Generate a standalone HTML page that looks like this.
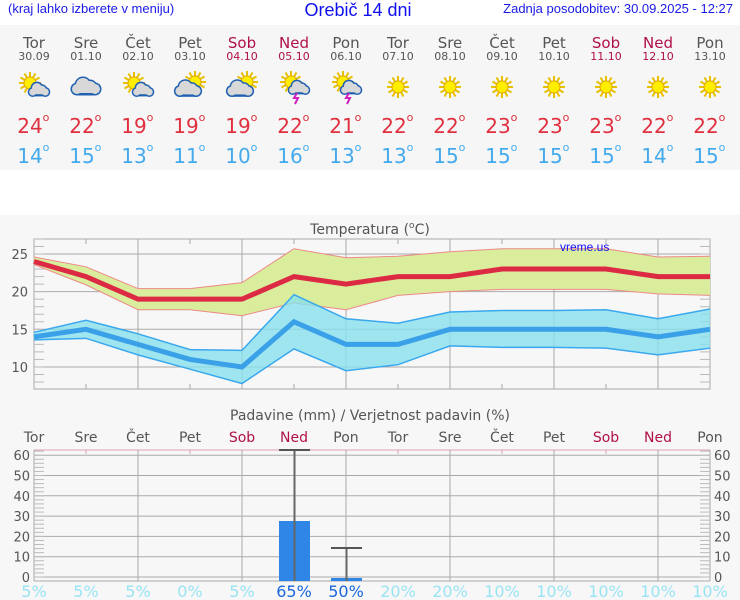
<!DOCTYPE html>
<html><head><meta charset="utf-8">
<style>
body{margin:0;width:740px;height:600px;overflow:hidden;background:#fff;font-family:"DejaVu Sans","Liberation Sans",sans-serif;}
</style></head>
<body>
<svg id="s" width="740" height="600" xmlns="http://www.w3.org/2000/svg" style="position:absolute;left:0;top:0"></svg>
<script>
var s='';
function t(x,y,txt,sz,col,anch,fam){s+='<text x="'+x+'" y="'+y+'" font-size="'+sz+'" fill="'+col+'" text-anchor="'+(anch||'middle')+'" font-family="'+(fam||'DejaVu Sans, Liberation Sans, sans-serif')+'">'+txt+'</text>';}
s+='<rect x="0" y="25" width="740" height="145" fill="#f6f6f6"/>';
s+='<rect x="0" y="215" width="740" height="385" fill="#f7f7f7"/>';
t(8,13,'(kraj lahko izberete v meniju)',13,'#1a1ae6','start','Liberation Sans, sans-serif');
t(358,16,'Orebič 14 dni',18,'#1010ee','middle','Liberation Sans, sans-serif');
t(733,13,'Zadnja posodobitev: 30.09.2025 - 12:27',13,'#1a1ae6','end','Liberation Sans, sans-serif');
var days=['Tor','Sre','Čet','Pet','Sob','Ned','Pon','Tor','Sre','Čet','Pet','Sob','Ned','Pon'];
var dates=['30.09','01.10','02.10','03.10','04.10','05.10','06.10','07.10','08.10','09.10','10.10','11.10','12.10','13.10'];
var mx=[24,22,19,19,19,22,21,22,22,23,23,23,22,22];
var mn=[14,15,13,11,10,16,13,13,15,15,15,15,14,15];
var icons=['sc','c','sc','cs','cs','st','st','s','s','s','s','s','s','s'];
function sun(x,y,r){var o='';for(var k=0;k<12;k++){var a=k*Math.PI/6;o+='<line x1="'+(x+Math.cos(a)*r)+'" y1="'+(y+Math.sin(a)*r)+'" x2="'+(x+Math.cos(a)*(r+5))+'" y2="'+(y+Math.sin(a)*(r+5))+'" stroke="#e8c000" stroke-width="2"/>';}
o+='<circle cx="'+x+'" cy="'+y+'" r="'+r+'" fill="#ffee00" stroke="#e0a800" stroke-width="1"/>';return o;}
function cloud(x,y,w){
 var c=[[x-9*w,y+1,5*w],[x+9*w,y+1,5*w],[x-3*w,y-3,7*w],[x+4*w,y-1,6*w]];
 var o='<g fill="#2060b0">';c.forEach(function(e){o+='<circle cx="'+e[0]+'" cy="'+e[1]+'" r="'+(e[2]+1.5)+'"/>';});o+='<rect x="'+(x-9*w)+'" y="'+(y-1)+'" width="'+(18*w)+'" height="'+(7*w+1.5)+'"/></g><g fill="#d8d8d8">';
 c.forEach(function(e){o+='<circle cx="'+e[0]+'" cy="'+e[1]+'" r="'+e[2]+'"/>';});o+='<rect x="'+(x-9*w)+'" y="'+(y-1)+'" width="'+(18*w)+'" height="'+(6*w)+'"/></g>';return o;}
for(var i=0;i<14;i++){
 var x=34+52*i, we=(i==4||i==5||i==11||i==12);
 t(x,48,days[i],15,we?'#b0104a':'#555');
 t(x,60,dates[i],11,we?'#b0104a':'#555');
 var ic=icons[i];
 if(ic=='s')s+=sun(x,87,6);
 else if(ic=='sc'){s+=sun(x-4,83,6);s+=cloud(x+5,91,0.7);}
 else if(ic=='c'){s+=cloud(x,88,1);}
 else if(ic=='cs'){s+=sun(x+5,82,6);s+=cloud(x-2,90,0.9);}
 else if(ic=='st'){s+=sun(x-3,82,6);s+=cloud(x+5,89,0.7);s+='<path d="M'+(x+3)+' 93 l-3 5 h4 l-3 6" stroke="#d020c0" fill="none" stroke-width="2"/>';}
 t(x-4,133,mx[i],20,'#e03040');t(x+12,121,'o',11,'#e03040');
 t(x-4,163,mn[i],20,'#44aaee');t(x+12,151,'o',11,'#44aaee');
}
var L=34,R=710,T=239,B=389;function Y(v){return 254+(25-v)*7.53;}function X(i){return 34+52*i;}
t(370,234,'Temperatura (<tspan font-size="9" dy="-6">o</tspan><tspan dy="6">C)</tspan>',14,'#555');
s+='<rect x="'+L+'" y="'+T+'" width="'+(R-L)+'" height="'+(B-T)+'" fill="none" stroke="#aaa"/>';
[25,20,15,10].forEach(function(v){s+='<line x1="'+L+'" x2="'+R+'" y1="'+Y(v)+'" y2="'+Y(v)+'" stroke="#aaa"/>';t(28,Y(v)+5,v,13,'#555','end');});
for(var v=8;v<=27;v++){s+='<line x1="'+L+'" x2="'+(L+10)+'" y1="'+Y(v)+'" y2="'+Y(v)+'" stroke="#bbb"/><line x1="'+(R-10)+'" x2="'+R+'" y1="'+Y(v)+'" y2="'+Y(v)+'" stroke="#bbb"/>';}
for(var i=1;i<13;i++){if(i%2==0)s+='<line x1="'+X(i)+'" x2="'+X(i)+'" y1="'+T+'" y2="'+B+'" stroke="#aaa"/>';else s+='<line x1="'+X(i)+'" x2="'+X(i)+'" y1="'+T+'" y2="'+(T+5)+'" stroke="#aaa"/><line x1="'+X(i)+'" x2="'+X(i)+'" y1="'+(B-5)+'" y2="'+B+'" stroke="#aaa"/>';}
var mxu=[24.6,23.3,20.4,20.4,21.2,25.7,24.5,24.7,25.3,25.7,25.7,25.7,24.6,24.7];
var mxl=[23.6,20.9,17.6,17.6,16.8,18.5,17.6,19.5,20,20.3,20.3,20.3,19.7,19.5];
var mnu=[14.6,16.2,14.4,12.3,12.2,19.6,16.4,15.8,17.3,17.5,17.5,17.6,16.4,17.7];
var mnl=[13.6,13.8,11.6,9.7,7.8,12.4,9.5,10.3,12.8,12.6,12.6,12.5,11.6,12.5];
function pts(a){return a.map(function(v,i){return X(i)+','+Y(v);}).join(' ');}
function band(u,l){return pts(u)+' '+l.map(function(v,i){return X(i)+','+Y(v);}).reverse().join(' ');}
s+='<polygon points="'+band(mxu,mxl)+'" fill="#d9ed9c"/>';
s+='<polyline points="'+pts(mxu)+'" fill="none" stroke="#e88" stroke-width="1"/><polyline points="'+pts(mxl)+'" fill="none" stroke="#e88" stroke-width="1"/>';
s+='<polygon points="'+band(mnu,mnl)+'" fill="#88e0ee" fill-opacity="0.8"/>';
s+='<polyline points="'+pts(mnu)+'" fill="none" stroke="#3aa8ee" stroke-width="1.5"/><polyline points="'+pts(mnl)+'" fill="none" stroke="#3aa8ee" stroke-width="1.5"/>';
s+='<polyline points="'+pts(mx)+'" fill="none" stroke="#dd2a44" stroke-width="5"/>';
s+='<polyline points="'+pts(mn)+'" fill="none" stroke="#3aa0e8" stroke-width="5"/>';
t(560,251,'vreme.us',12,'#1010ee','start','Liberation Sans, sans-serif');
var T2=450,B2=581;function Yp(v){return 577-v*2.03;}
t(370,420,'Padavine (mm) / Verjetnost padavin (%)',14,'#555');
for(var i=0;i<14;i++){var we=(i==4||i==5||i==11||i==12);t(X(i),442,days[i],14,we?'#b0104a':'#555');}
s+='<line x1="'+L+'" x2="'+R+'" y1="'+T2+'" y2="'+T2+'" stroke="#e0a0b8"/>';
s+='<line x1="'+L+'" x2="'+R+'" y1="'+B2+'" y2="'+B2+'" stroke="#aaa"/>';
s+='<line x1="'+L+'" x2="'+L+'" y1="'+T2+'" y2="'+B2+'" stroke="#aaa"/><line x1="'+R+'" x2="'+R+'" y1="'+T2+'" y2="'+B2+'" stroke="#aaa"/>';
for(var v=0;v<=60;v+=10){s+='<line x1="'+L+'" x2="'+R+'" y1="'+Yp(v)+'" y2="'+Yp(v)+'" stroke="#aaa"/>';t(30,Yp(v)+5,v,13,'#555','end');t(714,Yp(v)+5,v,13,'#555','start');}
for(var v=0;v<=62;v+=2){s+='<line x1="'+L+'" x2="'+(L+10)+'" y1="'+Yp(v)+'" y2="'+Yp(v)+'" stroke="#bbb"/><line x1="'+(R-10)+'" x2="'+R+'" y1="'+Yp(v)+'" y2="'+Yp(v)+'" stroke="#bbb"/>';}
for(var i=1;i<13;i++){if(i%2==0)s+='<line x1="'+X(i)+'" x2="'+X(i)+'" y1="'+T2+'" y2="'+B2+'" stroke="#aaa"/>';else s+='<line x1="'+X(i)+'" x2="'+X(i)+'" y1="'+T2+'" y2="'+(T2+4)+'" stroke="#e0a0b8"/>';}
s+='<rect x="279" y="521" width="31" height="60" fill="#2f86e6"/>';
s+='<rect x="331" y="578" width="31" height="3" fill="#2f86e6"/>';
s+='<line x1="294.5" x2="294.5" y1="450" y2="581" stroke="#666" stroke-width="2"/><line x1="279" x2="310" y1="450" y2="450" stroke="#555" stroke-width="2"/>';
s+='<line x1="346.5" x2="346.5" y1="548" y2="581" stroke="#666" stroke-width="2"/><line x1="331" x2="362" y1="548" y2="548" stroke="#555" stroke-width="2"/>';
var pc=['5%','5%','5%','0%','5%','65%','50%','20%','20%','10%','10%','10%','10%','10%'];
for(var i=0;i<14;i++){var hi=(i==5||i==6);t(X(i),597,pc[i],16,hi?'#1a66dd':'#99e4f4');}
document.getElementById('s').innerHTML=s;
</script>
</body></html>
